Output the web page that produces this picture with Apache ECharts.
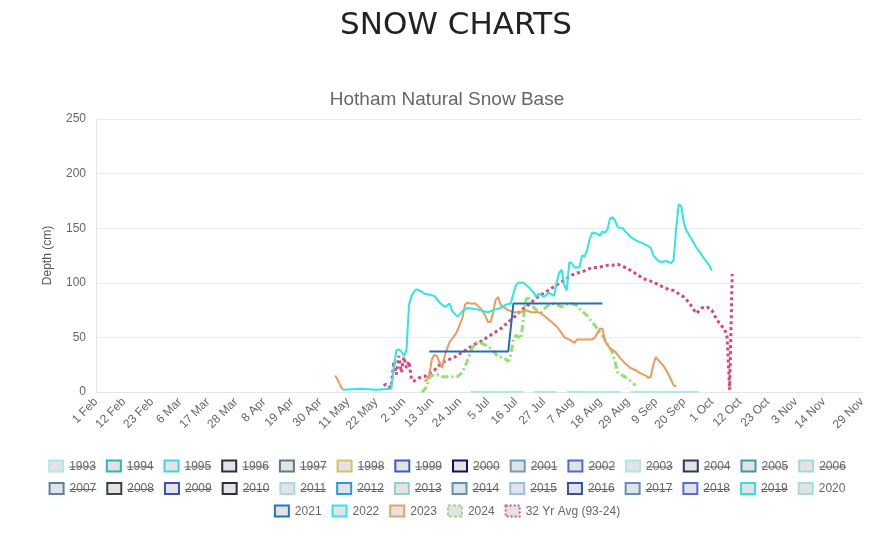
<!DOCTYPE html>
<html><head><meta charset="utf-8">
<script src="https://cdn.jsdelivr.net/npm/echarts@6/dist/echarts.min.js"></script>
<style>html,body{margin:0;padding:0;background:#fff}#chart{width:894px;height:537px}</style>
</head><body><div id="chart"></div>
<script>
// ---- categories (daily, 1 Feb .. 29 Nov) ----
const monthNames = ['Feb','Mar','Apr','May','Jun','Jul','Aug','Sep','Oct','Nov'];
const monthDays  = [28,31,30,31,30,31,31,30,31,29];
const categories = [];
monthNames.forEach((m,i)=>{ for(let d=1; d<=monthDays[i]; d++) categories.push(d+' '+m); });

const tickLabels = ['1 Feb','12 Feb','23 Feb','6 Mar','17 Mar','28 Mar','8 Apr','19 Apr','30 Apr','11 May','22 May','2 Jun','13 Jun','24 Jun','5 Jul','16 Jul','27 Jul','7 Aug','18 Aug','29 Aug','9 Sep','20 Sep','1 Oct','12 Oct','23 Oct','3 Nov','14 Nov','29 Nov'];
const yTicks = [0,50,100,150,200,250];

// ---- series values [date, depth cm] ----
const y2020 = [['28 Jun',0],['19 Jul',0],['20 Jul',null],['23 Jul',0],['1 Aug',0],['2 Aug',null],['5 Aug',0],['26 Aug',0],['27 Aug',null],['30 Aug',0],['26 Sep',0]];

const y2021 = [['12 Jun',37],['13 Jul',37],['15 Jul',81],['19 Aug',81]];

const y2022 = [['9 May',2],['16 May',3],['22 May',2],['28 May',3],['30 May',38],['31 May',39],['1 Jun',37],['2 Jun',33],['3 Jun',38],['4 Jun',80],['5 Jun',88],['6 Jun',92],['7 Jun',94],['8 Jun',93],['9 Jun',92],['10 Jun',90],['12 Jun',89],['14 Jun',88],['16 Jun',82],['18 Jun',78],['20 Jun',81],['21 Jun',74],['23 Jun',69],['24 Jun',71],['25 Jun',74],['27 Jun',77],['30 Jun',76],['2 Jul',75],['5 Jul',73],['7 Jul',75],['10 Jul',77],['12 Jul',80],['14 Jul',81],['15 Jul',90],['16 Jul',98],['17 Jul',100],['19 Jul',100],['21 Jul',96],['23 Jul',91],['24 Jul',87],['25 Jul',90],['27 Jul',87],['29 Jul',91],['31 Jul',88],['1 Aug',100],['2 Aug',109],['3 Aug',112],['4 Aug',98],['5 Aug',93],['6 Aug',119],['7 Aug',118],['8 Aug',114],['10 Aug',114],['11 Aug',125],['12 Aug',124],['13 Aug',130],['14 Aug',140],['15 Aug',146],['17 Aug',145],['18 Aug',143],['19 Aug',147],['20 Aug',146],['21 Aug',149],['22 Aug',159],['23 Aug',160],['24 Aug',157],['25 Aug',151],['27 Aug',150],['28 Aug',147],['29 Aug',145],['30 Aug',142],['1 Sep',139],['3 Sep',137],['5 Sep',135],['7 Sep',132],['8 Sep',125],['10 Sep',120],['11 Sep',119],['13 Sep',120],['15 Sep',118],['16 Sep',121],['17 Sep',150],['18 Sep',172],['19 Sep',170],['20 Sep',155],['21 Sep',148],['23 Sep',140],['25 Sep',132],['26 Sep',129],['28 Sep',122],['30 Sep',116],['1 Oct',111]];

const y2023 = [['6 May',15],['7 May',11],['8 May',6],['9 May',2],['20 May',null],['10 Jun',10],['11 Jun',11],['12 Jun',16],['13 Jun',30],['14 Jun',34],['15 Jun',33],['16 Jun',27],['17 Jun',22],['18 Jun',33],['19 Jun',40],['20 Jun',46],['21 Jun',49],['22 Jun',52],['23 Jun',56],['24 Jun',62],['25 Jun',68],['26 Jun',80],['27 Jun',82],['28 Jun',81],['30 Jun',81],['2 Jul',77],['4 Jul',70],['5 Jul',64],['6 Jul',64],['7 Jul',72],['8 Jul',84],['9 Jul',87],['10 Jul',80],['11 Jul',78],['13 Jul',75],['15 Jul',73],['18 Jul',73],['20 Jul',75],['22 Jul',73],['25 Jul',73],['27 Jul',70],['28 Jul',68],['30 Jul',64],['1 Aug',60],['3 Aug',54],['4 Aug',50],['6 Aug',48],['8 Aug',45],['9 Aug',48],['11 Aug',48],['13 Aug',48],['15 Aug',48],['16 Aug',50],['18 Aug',58],['19 Aug',58],['20 Aug',47],['21 Aug',43],['22 Aug',40],['24 Aug',37],['26 Aug',31],['28 Aug',26],['30 Aug',22],['1 Sep',20],['3 Sep',17],['5 Sep',15],['6 Sep',13],['7 Sep',14],['8 Sep',25],['9 Sep',32],['10 Sep',29],['12 Sep',24],['14 Sep',16],['15 Sep',11],['16 Sep',6],['17 Sep',5]];

const y2024 = [['9 Jun',0],['10 Jun',2],['11 Jun',5],['12 Jun',13],['13 Jun',15],['15 Jun',16],['17 Jun',14],['20 Jun',14],['23 Jun',14],['25 Jun',18],['27 Jun',29],['29 Jun',41],['1 Jul',46],['3 Jul',44],['5 Jul',42],['7 Jul',38],['9 Jul',32],['10 Jul',32],['12 Jul',30],['13 Jul',28],['14 Jul',34],['15 Jul',48],['16 Jul',52],['18 Jul',49],['19 Jul',68],['20 Jul',85],['21 Jul',86],['22 Jul',80],['24 Jul',75],['26 Jul',73],['28 Jul',78],['30 Jul',81],['1 Aug',80],['3 Aug',78],['5 Aug',80],['7 Aug',81],['9 Aug',79],['11 Aug',74],['13 Aug',70],['15 Aug',64],['17 Aug',58],['19 Aug',52],['21 Aug',44],['23 Aug',36],['24 Aug',27],['25 Aug',18],['27 Aug',15],['29 Aug',12],['31 Aug',8],['1 Sep',6]];

const avg = [['25 May',6],['26 May',7],['27 May',5],['28 May',4],['29 May',28],['30 May',16],['31 May',33],['1 Jun',18],['2 Jun',32],['3 Jun',22],['4 Jun',28],['5 Jun',11],['6 Jun',10],['8 Jun',13],['10 Jun',14],['12 Jun',17],['14 Jun',20],['16 Jun',25],['18 Jun',28],['20 Jun',30],['22 Jun',32],['24 Jun',35],['26 Jun',38],['28 Jun',41],['30 Jun',44],['2 Jul',46],['4 Jul',49],['6 Jul',52],['8 Jul',55],['10 Jul',58],['12 Jul',62],['14 Jul',66],['16 Jul',70],['18 Jul',75],['20 Jul',78],['22 Jul',82],['24 Jul',86],['26 Jul',89],['28 Jul',92],['30 Jul',95],['1 Aug',98],['3 Aug',101],['5 Aug',104],['7 Aug',107],['9 Aug',109],['11 Aug',110],['13 Aug',112],['15 Aug',114],['17 Aug',114],['19 Aug',115],['21 Aug',116],['23 Aug',116],['25 Aug',117],['27 Aug',115],['29 Aug',113],['31 Aug',110],['2 Sep',107],['4 Sep',104],['6 Sep',102],['8 Sep',101],['10 Sep',98],['12 Sep',96],['14 Sep',94],['16 Sep',93],['18 Sep',90],['20 Sep',87],['22 Sep',82],['24 Sep',75],['25 Sep',72],['27 Sep',77],['29 Sep',78],['1 Oct',75],['3 Oct',66],['5 Oct',60],['6 Oct',58],['7 Oct',50],['8 Oct',2],['9 Oct',108]];

// ---- legend ----
const legendNames = ['1993','1994','1995','1996','1997','1998','1999','2000','2001','2002','2003','2004','2005','2006','2007','2008','2009','2010','2011','2012','2013','2014','2015','2016','2017','2018','2019','2020','2021','2022','2023','2024','32 Yr Avg (93-24)'];
const legendColors = ['#b4e6ea','#2fb3b8','#3fd6de','#2b2f45','#5c7b86','#d6c264','#3b5cc6','#12125e','#6d9bc0','#4b6bd0','#ace8e8','#2c3a5e','#3a9aa8','#a3d9d9','#5b81a0','#3b3f48','#3b51b0','#2b2e40','#a3dde1','#2c9bd8','#93d1d1','#6290b8','#93c3e8','#3151b0','#6290b8','#5171d0','#34e0d8','#a3dde1','#2272c8','#33e6e8','#e9a064','#92e071','#e0507f'];
const legendHidden = legendNames.map(n => /^\d{4}$/.test(n) && +n < 2020);
const legendDash = {'2024':[3,2], '32 Yr Avg (93-24)':[2,2]};

const FONT = '"Liberation Sans", Arial, sans-serif';
const W = 894;

function buildLegend(){
  const ctx = document.createElement('canvas').getContext('2d');
  ctx.font = '12px ' + FONT;
  const BOX_W = 15, BOX_H = 12, GAP = 6, PAD = 10, ROW_H = 22.5, TOP = 466.5, MAXW = 850;
  const rows = [[]]; const rowW = [0];
  legendNames.forEach((n,i)=>{
    const tw = ctx.measureText(n).width;
    const w = BOX_W + GAP + tw;
    let r = rows.length-1;
    if (rows[r].length && rowW[r] + w > MAXW){ rows.push([]); rowW.push(0); r++; }
    rows[r].push({i, w, tw}); rowW[r] += w + PAD;
  });
  const els = [];
  rows.forEach((row, r)=>{
    const total = rowW[r] - PAD;
    let x = (W - total)/2;
    const cy = TOP + r*ROW_H;
    row.forEach(it=>{
      const n = legendNames[it.i];
      els.push({type:'rect', silent:true, shape:{x:x+1, y:cy-BOX_H/2, width:BOX_W-1, height:BOX_H-1},
        style:{fill:'#e3e3e3', stroke:legendColors[it.i], lineWidth:2, lineDash:legendDash[n]||null}});
      els.push({type:'text', silent:true, x:x+BOX_W+GAP, y:cy,
        style:{text:n, fill:'#666', font:'12px '+FONT, verticalAlign:'middle', align:'left'}});
      if (legendHidden[it.i]) {
        els.push({type:'line', silent:true, shape:{x1:x+BOX_W+GAP, y1:cy+0.5, x2:x+BOX_W+GAP+it.tw, y2:cy+0.5},
          style:{stroke:'#666', lineWidth:1}});
      }
      x += it.w + PAD;
    });
  });
  return els;
}

function mk(name, data, color, width, type){
  return {type:'line', name, data, symbol:'none', showSymbol:false, connectNulls:false, smooth:false,
    lineStyle:{color, width, type:type||'solid'}, itemStyle:{color}, animation:false};
}

const chart = echarts.init(document.getElementById('chart'), null, {renderer:'canvas'});
chart.setOption({
  animation:false,
  title:[
    {text:'SNOW CHARTS', left:451, textAlign:'center', top:5, textStyle:{fontFamily:'"DejaVu Sans", sans-serif', fontSize:31, fontWeight:'normal', color:'#222'}},
    {text:'Hotham Natural Snow Base', left:'center', top:85, textStyle:{fontFamily:FONT, fontSize:19, fontWeight:'normal', color:'#666'}}
  ],
  grid:{left:96, right:32, top:119, bottom:145, containLabel:false},
  xAxis:{type:'category', data:categories, boundaryGap:false,
    axisLine:{show:true, lineStyle:{color:'#e6e6e6'}}, axisTick:{show:false}, splitLine:{show:false},
    axisLabel:{interval:(i,v)=>tickLabels.includes(v), rotate:45, color:'#666', fontSize:12, fontFamily:FONT, margin:8}},
  yAxis:{type:'value', min:yTicks[0], max:yTicks[yTicks.length-1], interval:50,
    name:'Depth (cm)', nameLocation:'middle', nameGap:42, nameTextStyle:{color:'#555', fontSize:12, fontFamily:FONT},
    axisLine:{show:true, lineStyle:{color:'#e6e6e6'}}, axisTick:{show:false},
    splitLine:{lineStyle:{color:'#ebebeb'}},
    axisLabel:{color:'#666', fontSize:12, fontFamily:FONT, margin:10}},
  series:[
    mk('32 Yr Avg (93-24)', avg, '#d9467c', 3, [3,3]),
    mk('2024', y2024, '#92e071', 3, [7,3,2,3]),
    mk('2023', y2023, '#eb9a5e', 2),
    mk('2022', y2022, '#2ee6e6', 2),
    mk('2021', y2021, '#1f6fb6', 2),
    mk('2020', y2020, '#b4e6ea', 2)
  ],
  graphic: buildLegend()
});
</script>
</body></html>
